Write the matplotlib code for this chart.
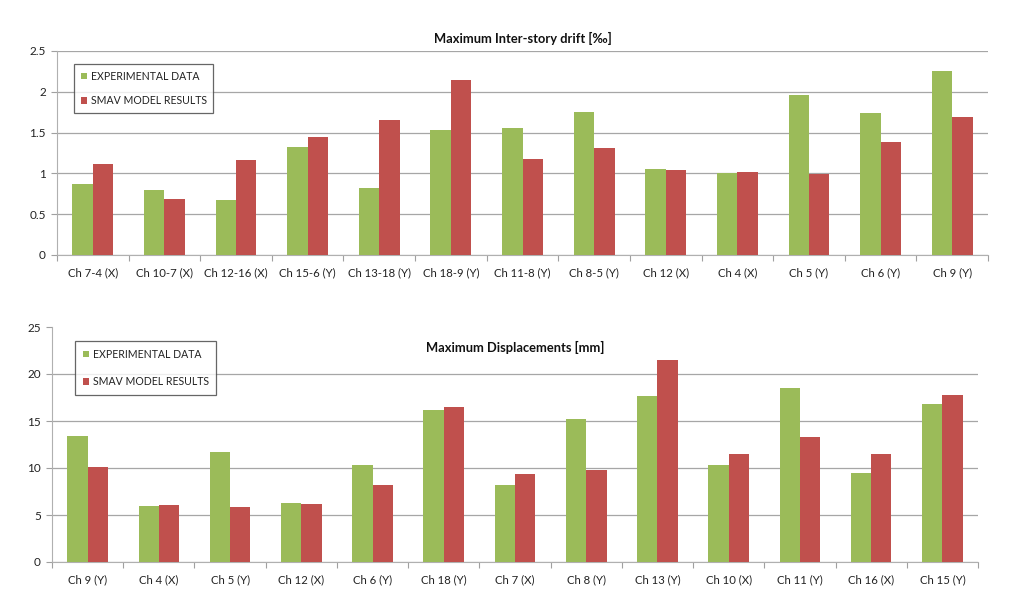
import matplotlib
matplotlib.use("Agg")
import matplotlib.pyplot as plt
import numpy as np
from matplotlib.ticker import FixedLocator

plt.rcParams['font.family'] = ['Lato', 'DejaVu Sans']

# Top chart data
drift_labels = ["Ch 7-4 (X)", "Ch 10-7 (X)", "Ch 12-16 (X)", "Ch 15-6 (Y)", "Ch 13-18 (Y)",
                "Ch 18-9 (Y)", "Ch 11-8 (Y)", "Ch 8-5 (Y)", "Ch 12 (X)", "Ch 4 (X)",
                "Ch 5 (Y)", "Ch 6 (Y)", "Ch 9 (Y)"]
drift_exp = [0.87, 0.80, 0.68, 1.32, 0.82, 1.53, 1.56, 1.75, 1.06, 1.00, 1.96, 1.74, 2.26]
drift_model = [1.11, 0.69, 1.16, 1.44, 1.65, 2.14, 1.18, 1.31, 1.04, 1.02, 0.99, 1.38, 1.69]

# Bottom chart data
disp_labels = ["Ch 9 (Y)", "Ch 4 (X)", "Ch 5 (Y)", "Ch 12 (X)", "Ch 6 (Y)", "Ch 18 (Y)",
               "Ch 7 (X)", "Ch 8 (Y)", "Ch 13 (Y)", "Ch 10 (X)", "Ch 11 (Y)", "Ch 16 (X)",
               "Ch 15 (Y)"]
disp_exp = [13.45, 5.96, 11.67, 6.31, 10.35, 16.13, 8.16, 15.25, 17.62, 10.35, 18.55, 9.5, 16.84]
disp_model = [10.1, 6.1, 5.82, 6.17, 8.16, 16.49, 9.4, 9.79, 21.45, 11.52, 13.33, 11.52, 17.77]

series_names = ["EXPERIMENTAL DATA", "SMAV MODEL RESULTS"]
GREEN = "#9BBB59"
RED = "#C0504D"

W, H = 1024, 606
fig = plt.figure(figsize=(W / 100, H / 100), dpi=100)


def make_axes(x0, x1, ytop, ybot):
    return fig.add_axes([x0 / W, 1 - ybot / H, (x1 - x0) / W, (ybot - ytop) / H])


def draw(ax, labels, exp, model, ymax, step, title, title_y, legend_box,
         lab_sp, bpad, top_grid=True):
    n = len(labels)
    x = np.arange(n)
    bw = 0.285
    ax.bar(x - bw / 2, exp, width=bw, color=GREEN, label=series_names[0], zorder=3)
    ax.bar(x + bw / 2, model, width=bw, color=RED, label=series_names[1], zorder=3)
    ax.set_xlim(-0.5, n - 0.5)
    ax.set_ylim(0, ymax)
    yt = np.arange(0, ymax + step / 2, step)
    ax.set_yticks(yt)
    ax.set_yticklabels([("%g" % v) for v in yt], fontsize=8.5, color="#222222")
    ax.set_xticks(x)
    ax.set_xticklabels(labels, fontsize=8.2, color="#222222")
    ax.xaxis.set_minor_locator(FixedLocator(np.arange(-0.5, n, 1.0)))
    ax.tick_params(axis='x', which='major', length=0, pad=9)
    ax.tick_params(axis='x', which='minor', length=4, color="#A0A0A0", width=0.8)
    ax.tick_params(axis='y', length=4, color="#A0A0A0", width=0.8, pad=4)
    ax.grid(axis='y', color="#A6A6A6", linewidth=0.9, zorder=0)
    if not top_grid:
        ax.yaxis.get_gridlines()[-1].set_visible(False)
    for s in ['top', 'right']:
        ax.spines[s].set_visible(False)
    ax.spines['left'].set_color("#B0B0B0")
    ax.spines['bottom'].set_color("#B0B0B0")
    ax.set_axisbelow(True)
    ax.text(0.5, title_y, title, transform=ax.transAxes, ha='center', va='center',
            fontsize=9.3, fontweight='bold', color="#111111")
    leg = ax.legend(loc='upper left', bbox_to_anchor=legend_box, fontsize=7.6,
                    frameon=True, fancybox=False, handlelength=0.6, handleheight=0.6,
                    handletextpad=0.35, labelspacing=lab_sp, borderpad=bpad,
                    borderaxespad=0)
    leg.get_frame().set_edgecolor("#404040")
    leg.get_frame().set_linewidth(0.9)
    for t in leg.get_texts():
        t.set_color("#222222")


# Top chart
ax1 = make_axes(57, 988, 51, 255)
draw(ax1, drift_labels, drift_exp, drift_model, 2.5, 0.5,
     "Maximum Inter-story drift [\u2030]", (51 - 38) / 204 + 1.0,
     ((74 - 57) / 931, 1 - (64 - 51) / 204), 1.26, 0.63)

# Bottom chart
ax2 = make_axes(52, 978, 327, 562)
draw(ax2, disp_labels, disp_exp, disp_model, 25, 5,
     "Maximum Displacements [mm]", 1 - (347 - 327) / 235,
     ((75 - 52) / 926, 1 - (341 - 327) / 235), 1.55, 0.73, top_grid=False)

fig.savefig("out.png", dpi=100)
